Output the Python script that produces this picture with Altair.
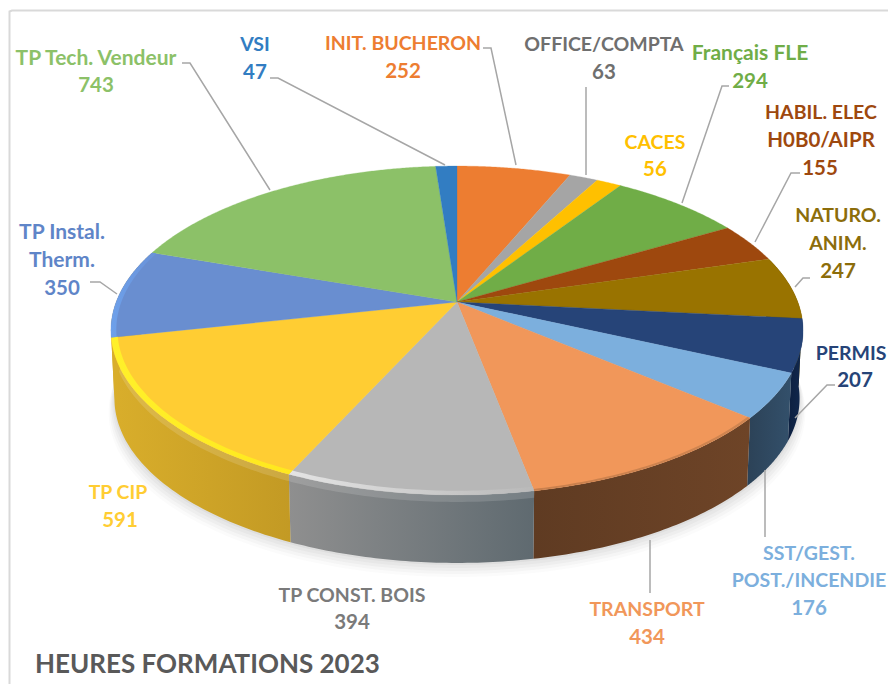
import numpy as np
import pandas as pd
import altair as alt

# ---- data (clockwise from 12 o'clock) ----
names = ["INIT. BUCHERON", "OFFICE/COMPTA", "CACES", "Français FLE", "HABIL. ELEC H0B0/AIPR",
         "NATURO. ANIM.", "PERMIS", "SST/GEST. POST./INCENDIE", "TRANSPORT", "TP CONST. BOIS",
         "TP CIP", "TP Instal. Therm.", "TP Tech. Vendeur", "VSI"]
hours = [252, 63, 56, 294, 155, 247, 207, 176, 434, 394, 591, 350, 743, 47]
top_colors = ["#ed7d31", "#a5a5a5", "#ffc000", "#70ad47", "#9e480e", "#997300", "#264478",
              "#7cafdd", "#f1975a", "#b7b7b7", "#ffcd33", "#698ed0", "#8cc168", "#327dc2"]
wall_colors = {
    5: ("#5e4700", "#6b5200"),
    6: ("#0c1f3f", "#12294f"),
    7: ("#2c4257", "#33506b"),
    8: ("#5f3b22", "#6e4427"),
    9: ("#8f8f8f", "#5f6a70"),
    10: ("#d9ae2b", "#c39a24"),
    11: ("#d9ae2b", "#d9ae2b"),
}
rim_colors = {
    8: ("#c97f4c", "#d08550", 0.992),
    9: ("#e4e4e4", "#b9b9b9", 0.982),
    10: ("#fff02a", "#ffe81e", 0.982),
    11: ("#6da0ea", "#6a92d8", 0.985),
}
soft_wall = [9, 10]
label_lines = [
    ("TP Tech. Vendeur", 96, 57, 12), ("743", 96, 84, 12),
    ("VSI", 255, 43, 13), ("47", 255, 71, 13),
    ("INIT. BUCHERON", 403, 42, 0), ("252", 403, 70, 0),
    ("OFFICE/COMPTA", 604, 43, 14), ("63", 604, 71, 14),
    ("Français FLE", 750, 52, 3), ("294", 750, 80, 3),
    ("CACES", 655, 141, 2), ("56", 655, 168, 2),
    ("HABIL. ELEC", 821, 111, 4), ("H0B0/AIPR", 821, 139, 4), ("155", 820, 167, 4),
    ("NATURO.", 838, 214, 5), ("ANIM.", 838, 242, 5), ("247", 838, 270, 5),
    ("PERMIS", 851, 352, 6), ("207", 855, 379, 6),
    ("SST/GEST.", 809, 552, 7), ("POST./INCENDIE", 809, 579, 7), ("176", 809, 607, 7),
    ("TRANSPORT", 647, 608, 8), ("434", 647, 636, 8),
    ("TP CONST. BOIS", 352, 594, 15), ("394", 352, 621, 15),
    ("TP CIP", 118, 491, 10), ("591", 120, 519, 10),
    ("TP Instal.", 62, 231, 11), ("Therm.", 62, 259, 11), ("350", 62, 287, 11),
]
label_colors = {12: "#8cc168", 13: "#327dc2", 14: "#6f6f6f", 15: "#7a7a7a", 5: "#8c6d0a", 4: "#9e480e",
                6: "#264478", 7: "#7cafdd", 8: "#f1975a", 10: "#ffcd33", 11: "#5f85c8", 0: "#ed7d31",
                3: "#70ad47", 2: "#ffc000"}
leaders = [
    [(182, 63), (190, 63), (270, 190)],
    [(270, 78), (278, 78), (445, 165)],
    [(483, 48), (491, 48), (516, 165)],
    [(586, 87), (586, 175)],
    [(729, 86), (722, 86), (682, 203)],
    [(800, 173), (791, 173), (755, 242)],
    [(810, 278), (803, 278), (795, 287)],
    [(835, 385), (827, 385), (795, 418)],
    [(765, 470), (765, 537)],
    [(650, 540), (650, 593)],
    [(90, 282), (100, 282), (117, 294)],
]
title_text = "HEURES FORMATIONS 2023"

# ---- layout of the perspective disc ----
OX, OY = 8, 8
CX, CY = 457, 302
BX, AY, K = 340.8, 159.5, 0.1733
DEPTH = 68
FONT = "Lato"


def rim(theta, r=1.0):
    u, v = r * np.sin(theta), -r * np.cos(theta)
    d = 1 - K * v
    return CX + BX * u / d - OX, CY + AY * v / d - OY


def lower(theta, depth=DEPTH):
    x, y = rim(theta)
    return CX - OX + (x - (CX - OX)) * (1 - 0.01 * depth / DEPTH), y + depth


def geo(points, kind="Polygon"):
    pts = [[float(a), float(b)] for a, b in points]
    if kind == "Polygon":
        pts.append(pts[0])
        g = {"type": "Polygon", "coordinates": [pts]}
    else:
        g = {"type": "LineString", "coordinates": pts}
    return alt.Data(values={"type": "FeatureCollection",
                            "features": [{"type": "Feature", "properties": {}, "geometry": g}]},
                    format=alt.DataFormat(type="json", property="features"))


def shape(points, kind="Polygon", **mark):
    return alt.Chart(geo(points, kind)).mark_geoshape(**mark).project(
        type="identity", scale=1, translate=[0, 0])


def hgrad(a, b):
    return alt.Gradient(gradient="linear", x1=0, x2=1, y1=0, y2=0,
                        stops=[alt.GradientStop(color=a, offset=0), alt.GradientStop(color=b, offset=1)])


def text_size(t):
    if t == "HEURES FORMATIONS 2023":
        return 26
    if any(c.islower() for c in t):
        return 21
    if t.isdigit() or any(c.isdigit() for c in t):
        return 20.5
    return 19.5


vals = np.array(hours, dtype=float)
edges = np.concatenate([[0], np.cumsum(vals)]) / vals.sum() * 2 * np.pi

layers = []

# chart frame
layers.append(shape([(1.5, 690), (1.5, 3.5), (4, 2.5), (890, 2.5)], "LineString",
                    filled=False, stroke="#d9d9d9", strokeWidth=2))

# soft shadow under the disc
full = np.linspace(0, 2 * np.pi, 240)
for off, alpha in zip([14, 11, 8, 5, 2], [0.025, 0.03, 0.035, 0.04, 0.05]):
    xs, ys = lower(full)
    xs = CX - OX + (xs - (CX - OX)) * (1 + off * 0.0012)
    layers.append(shape(list(zip(xs, ys + off)), fill="#404040", fillOpacity=alpha, stroke=None))

# walls
for i, (a, b) in wall_colors.items():
    th = np.linspace(edges[i], edges[i + 1], 50)
    top = list(zip(*rim(th)))
    low = list(zip(*lower(th)))[::-1]
    layers.append(shape(top + low, fill=hgrad(a, b), stroke=None))
    if i in soft_wall:
        band = list(zip(*lower(th, 7)))[::-1]
        layers.append(shape(top + band, fill="#ffffff", fillOpacity=0.14, stroke=None))

# top faces
for i, col in enumerate(top_colors):
    th = np.linspace(edges[i], edges[i + 1], max(6, int(hours[i] / 4)))
    layers.append(shape([(CX - OX, CY - OY)] + list(zip(*rim(th))), fill=col, stroke=col, strokeWidth=0.3))

# bevel along the near edge
for i, (a, b, r) in rim_colors.items():
    th = np.linspace(edges[i], edges[i + 1], 50)
    outer = list(zip(*rim(th, 1.0)))
    inner = list(zip(*rim(th, r)))[::-1]
    layers.append(shape(outer + inner, fill=hgrad(a, b), stroke=None))

# leader lines
for pts in leaders:
    layers.append(shape([(x - OX, y - OY) for x, y in pts], "LineString",
                        filled=False, stroke="#a6a6a6", strokeWidth=1.5))

# labels
label_df = pd.DataFrame([
    {"t": t, "x": x - OX, "y": y - OY + 1.5, "c": label_colors[i], "s": text_size(t)}
    for t, x, y, i in label_lines
])
labels = alt.Chart(label_df).mark_text(font=FONT, fontWeight="bold", align="center",
                                       baseline="middle").encode(
    x=alt.X("x:Q", scale=None, axis=None), y=alt.Y("y:Q", scale=None, axis=None),
    text="t:N", color=alt.Color("c:N", scale=None),
    size=alt.Size("s:Q", scale=None, legend=None))
layers.append(labels)

title = alt.Chart(pd.DataFrame({"t": [title_text], "x": [35 - OX], "y": [663 - OY + 1.5]})).mark_text(
    font=FONT, fontSize=text_size(title_text), fontWeight="bold", align="left", baseline="middle",
    color="#595959").encode(
    x=alt.X("x:Q", scale=None, axis=None), y=alt.Y("y:Q", scale=None, axis=None), text="t:N")
layers.append(title)

chart = alt.layer(*layers).resolve_scale(color="independent").properties(
    width=880, height=676, autosize=alt.AutoSizeParams(type="none"), padding=0,
    background="white").configure_view(stroke=None)
chart.save("out.html", embed_options={"renderer": "svg", "actions": False})
